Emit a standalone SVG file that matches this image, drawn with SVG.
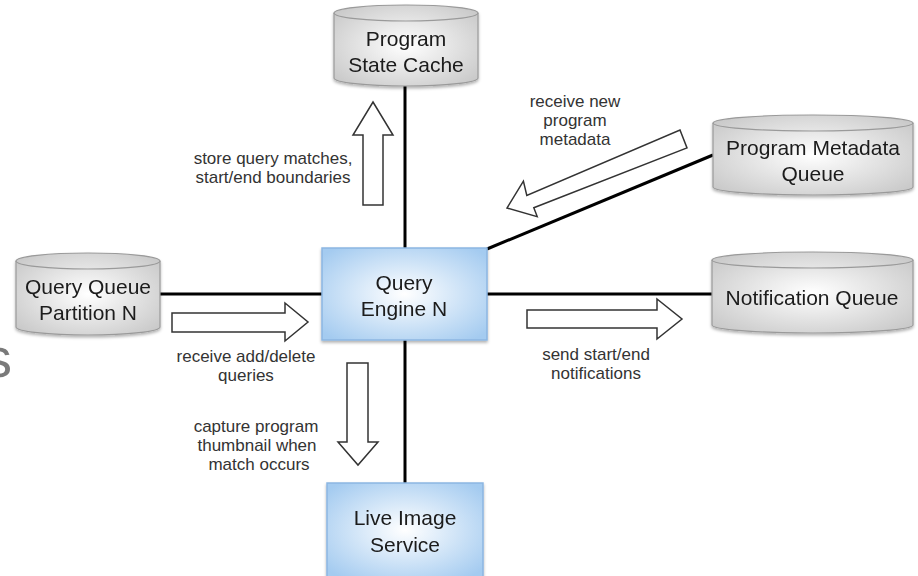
<svg xmlns="http://www.w3.org/2000/svg" width="918" height="576" viewBox="0 0 918 576">
<defs>
<radialGradient id="cyl" cx="50%" cy="50%" r="65%">
<stop offset="0" stop-color="#ffffff"/>
<stop offset="1" stop-color="#c8c8c8"/>
</radialGradient>
<radialGradient id="box" cx="50%" cy="50%" r="65%">
<stop offset="0" stop-color="#ffffff"/>
<stop offset="1" stop-color="#a4cbf0"/>
</radialGradient>
<filter id="sh" x="-10%" y="-10%" width="120%" height="130%">
<feDropShadow dx="0" dy="2" stdDeviation="1.5" flood-color="#000" flood-opacity="0.3"/>
</filter>
<style>
.cyl{fill:url(#cyl);stroke:#9a9a9a;stroke-width:1.2}
.rim{fill:none;stroke:#9a9a9a;stroke-width:1.2}
.box{fill:url(#box);stroke:#8cb6e2;stroke-width:1.5}
.nt{font-family:"Liberation Sans",Arial,sans-serif;font-size:21px;fill:#1a1a1a;text-anchor:middle}
.lb{font-family:"Liberation Sans",Arial,sans-serif;font-size:17px;fill:#333;text-anchor:middle}
.ln{stroke:#000;stroke-width:3;fill:none}
.ar{fill:#fff;stroke:#333;stroke-width:1.5;stroke-linejoin:miter}
</style>
</defs>
<rect width="918" height="576" fill="#fff"/>
<text x="-16" y="377" font-family="Liberation Sans,Arial,sans-serif" font-size="56" fill="#7a7a7a">s</text>

<g id="connectors">
<line class="ln" x1="405" y1="86" x2="405" y2="248"/>
<line class="ln" x1="405" y1="340" x2="405" y2="483"/>
<line class="ln" x1="160" y1="294" x2="322" y2="294"/>
<line class="ln" x1="487" y1="294" x2="712" y2="294"/>
<line class="ln" x1="487" y1="249" x2="713" y2="155"/>
<polygon class="ar" points="373,102 393,135 383,135 383,205 363,205 363,135 353,135"/>
<polygon class="ar" points="347,363 368,363 368,442 378,442 358,465 338,442 347,442"/>
<polygon class="ar" points="172,313 285,313 285,303 308,322 285,341 285,332 172,332"/>
<polygon class="ar" points="527,310 657,310 657,299 682,319 657,339 657,328 527,328"/>
<polygon class="ar" points="507,208 537.2,216.6 533.8,207.8 687,147.9 680,130.1 526.8,195.4 523.4,181.2"/>
<text class="lb" x="273" y="164">store query matches,</text>
<text class="lb" x="273" y="183">start/end boundaries</text>
<text class="lb" x="575" y="107">receive new</text>
<text class="lb" x="575" y="126">program</text>
<text class="lb" x="575" y="145">metadata</text>
<text class="lb" x="246" y="362">receive add/delete</text>
<text class="lb" x="246" y="381">queries</text>
<text class="lb" x="596" y="360">send start/end</text>
<text class="lb" x="596" y="379">notifications</text>
<text class="lb" x="256" y="432">capture program</text>
<text class="lb" x="257" y="451">thumbnail when</text>
<text class="lb" x="259" y="470">match occurs</text>
</g>

<g id="program-state-cache" filter="url(#sh)">
<path class="cyl" d="M334,13 A72,8 0 0 1 478,13 V78 A72,8 0 0 1 334,78 Z"/>
<path class="rim" d="M334,13 A72,8 0 0 0 478,13"/>
<text class="nt" x="406" y="46">Program</text>
<text class="nt" x="406" y="72">State Cache</text>
</g>

<g id="program-metadata-queue" filter="url(#sh)">
<path class="cyl" d="M713,123 A100,8 0 0 1 913,123 V187 A100,8 0 0 1 713,187 Z"/>
<path class="rim" d="M713,123 A100,8 0 0 0 913,123"/>
<text class="nt" x="813" y="155">Program Metadata</text>
<text class="nt" x="813" y="181">Queue</text>
</g>

<g id="query-queue-partition" filter="url(#sh)">
<path class="cyl" d="M16,261 A72,8 0 0 1 160,261 V327 A72,8 0 0 1 16,327 Z"/>
<path class="rim" d="M16,261 A72,8 0 0 0 160,261"/>
<text class="nt" x="88" y="294">Query Queue</text>
<text class="nt" x="88" y="320">Partition N</text>
</g>

<g id="notification-queue" filter="url(#sh)">
<path class="cyl" d="M712,260 A100.5,8 0 0 1 913,260 V325 A100.5,8 0 0 1 712,325 Z"/>
<path class="rim" d="M712,260 A100.5,8 0 0 0 913,260"/>
<text class="nt" x="812" y="305">Notification Queue</text>
</g>

<g id="query-engine" filter="url(#sh)">
<rect class="box" x="322" y="248" width="165" height="92"/>
<text class="nt" x="404" y="290">Query</text>
<text class="nt" x="404" y="316">Engine N</text>
</g>

<g id="live-image-service" filter="url(#sh)">
<rect class="box" x="327" y="483" width="156" height="94"/>
<text class="nt" x="405" y="525">Live Image</text>
<text class="nt" x="405" y="552">Service</text>
</g>
</svg>
